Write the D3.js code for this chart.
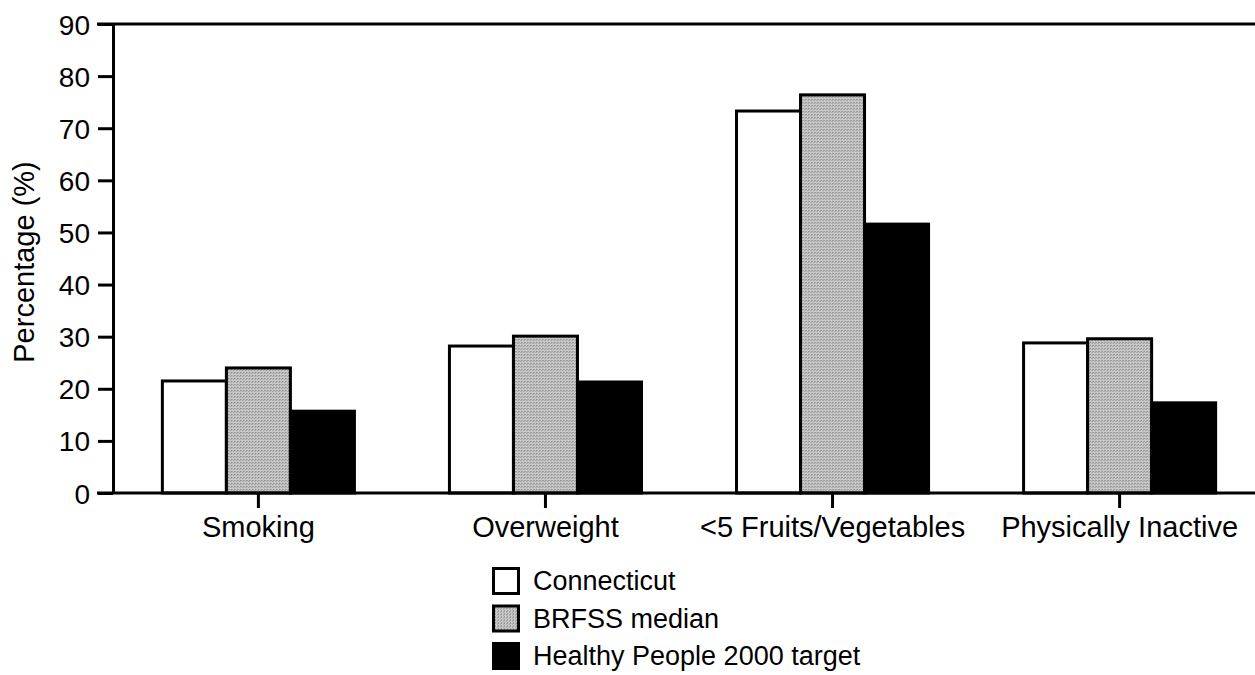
<!DOCTYPE html>
<html>
<head>
<meta charset="utf-8">
<script src="https://cdn.jsdelivr.net/npm/d3@7"></script>
<style>
  html, body { margin: 0; padding: 0; background: #fff; }
  svg { display: block; }
  text { font-family: "Liberation Sans", Arial, Helvetica, sans-serif; fill: #000; }
</style>
</head>
<body>
<svg id="chart" width="1255" height="675"></svg>
<script>
const categories = ["Smoking", "Overweight", "<5 Fruits/Vegetables", "Physically Inactive"];
const seriesNames = ["Connecticut", "BRFSS median", "Healthy People 2000 target"];
const connecticut = [21.5, 28.2, 73.3, 28.8];
const brfssMedian = [24.0, 30.1, 76.4, 29.6];
const hp2000Target = [15.7, 21.3, 51.6, 17.3];
const yTicks = [0, 10, 20, 30, 40, 50, 60, 70, 80, 90];
const yLabel = "Percentage (%)";

const seriesValues = [connecticut, brfssMedian, hp2000Target];
const fills = ["#ffffff", "#b4b4b4", "#000000"];

const svg = d3.select("#chart");

const y = d3.scaleLinear().domain([0, 90]).range([493, 24]);
const x0 = d3.scaleBand().domain(categories).range([115, 1263])
  .paddingInner(0.331).paddingOuter(0.165);
const x1 = d3.scaleBand().domain(seriesNames).range([0, x0.bandwidth()]).padding(0);

// stipple pattern for BRFSS
const defs = svg.append("defs");
const pat = defs.append("pattern").attr("id", "stip")
  .attr("width", 3).attr("height", 3).attr("patternUnits", "userSpaceOnUse");
pat.append("rect").attr("width", 3).attr("height", 3).attr("fill", "#c8c8c8");
pat.append("rect").attr("x", 0).attr("y", 0).attr("width", 1).attr("height", 1).attr("fill", "#707070");
pat.append("rect").attr("x", 2).attr("y", 1).attr("width", 1).attr("height", 1).attr("fill", "#909090");

const fillFor = (i) => i === 1 ? "url(#stip)" : fills[i];

// Bars
const groups = svg.append("g").selectAll("g").data(categories).join("g")
  .attr("transform", d => `translate(${x0(d)},0)`);
groups.selectAll("rect")
  .data((d, ci) => seriesNames.map((s, si) => ({ s, si, v: seriesValues[si][ci] })))
  .join("rect")
  .attr("x", d => x1(d.s))
  .attr("y", d => y(d.v))
  .attr("width", x1.bandwidth())
  .attr("height", d => y(0) - y(d.v))
  .attr("fill", d => fillFor(d.si))
  .attr("stroke", "#000")
  .attr("stroke-width", 3);

// Y axis
const yAxis = d3.axisLeft(y).tickValues(yTicks).tickSize(15).tickPadding(8).tickSizeOuter(0);
const gy = svg.append("g").attr("transform", "translate(113,0)").call(yAxis);
gy.select(".domain").attr("stroke", "#000").attr("stroke-width", 3);
gy.selectAll(".tick line").attr("stroke", "#000").attr("stroke-width", 3);
gy.selectAll(".tick text").style("font-size", "28px").attr("dy", "0.36em");

// X axis
const xAxis = d3.axisBottom(x0).tickSize(15).tickSizeOuter(0);
const gx = svg.append("g").attr("transform", "translate(0,493)").call(xAxis);
gx.select(".domain").remove();
gx.selectAll(".tick line").attr("stroke", "#000").attr("stroke-width", 3);
gx.selectAll(".tick text").style("font-size", "29px").attr("y", 44).attr("dy", "0");

// baseline and top frame line
svg.append("line").attr("x1", 97).attr("x2", 1255).attr("y1", y(0)).attr("y2", y(0))
  .attr("stroke", "#000").attr("stroke-width", 3);
svg.append("line").attr("x1", 97).attr("x2", 1255).attr("y1", y(90)).attr("y2", y(90))
  .attr("stroke", "#000").attr("stroke-width", 3);

// Y label
svg.append("text")
  .attr("transform", "translate(34,262) rotate(-90)")
  .attr("text-anchor", "middle")
  .style("font-size", "29px")
  .text(yLabel);

// Legend
const legend = svg.append("g").attr("transform", "translate(492,567)");
const lg = legend.selectAll("g").data(seriesNames).join("g")
  .attr("transform", (d, i) => `translate(0,${i * 37.5})`);
lg.append("rect").attr("x", 1.5).attr("y", 1.5).attr("width", 25).attr("height", 25)
  .attr("fill", (d, i) => fillFor(i)).attr("stroke", "#000").attr("stroke-width", 3);
lg.append("text").attr("x", 41).attr("y", 23).style("font-size", "27px").text(d => d);
</script>
</body>
</html>
